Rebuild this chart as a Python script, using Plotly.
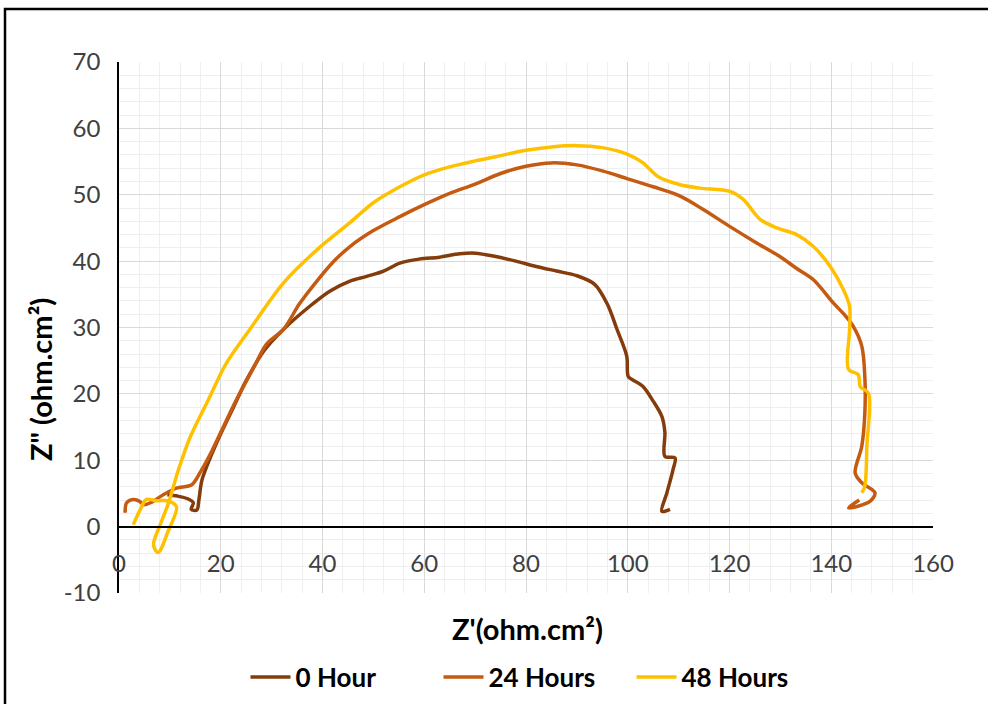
import plotly.graph_objects as go

# ---------------- data ----------------
series_names = ["0 Hour", "24 Hours", "48 Hours"]
series_colors = ["#843C0C", "#C55A11", "#FFC000"]

x_0h = [9.5, 11.5, 13.5, 14.6, 14.2, 15.3, 15.7, 16.3, 18.0, 20.0, 22.5, 25.0, 28.5,
        32.3, 37.5, 41.5, 45.4, 48.7, 52.0, 55.2, 59.0, 63.0, 67.0, 70.0, 74.0, 78.0,
        82.0, 86.0, 90.0, 93.5, 96.0, 97.9, 99.8, 100.1, 101.0, 103.0, 105.0, 106.7,
        107.3, 107.3, 109.3, 108.9, 107.7, 106.7, 108.3]
y_0h = [4.8, 4.6, 4.2, 3.6, 2.6, 2.5, 4.0, 7.0, 10.5, 14.0, 18.0, 22.0, 26.5,
        29.7, 33.2, 35.5, 37.0, 37.7, 38.5, 39.7, 40.3, 40.6, 41.1, 41.2, 40.7, 40.0,
        39.2, 38.5, 37.8, 36.5, 33.5, 29.7, 25.7, 22.6, 22.1, 21.1, 18.9, 16.6,
        14.2, 10.6, 10.35, 8.6, 5.1, 2.3, 2.6]

x_24h = [1.2, 1.5, 2.8, 4.1, 4.8, 6.2, 8.7, 11.3, 14.3, 15.9, 18.0, 20.0, 23.0, 26.5,
         29.0, 32.3, 35.5, 38.9, 42.0, 45.4, 50.0, 55.2, 60.0, 65.0, 70.0, 75.0, 80.0,
         85.0, 90.0, 95.0, 100.0, 105.0, 110.3, 115.0, 120.1, 125.0, 129.9, 133.0,
         136.5, 140.4, 142.5, 144.3, 146.0, 146.6, 146.6, 146.0, 144.7, 146.0, 148.6,
         147.6, 143.4, 145.5]
y_24h = [2.1, 3.6, 4.1, 3.8, 3.3, 3.6, 4.8, 5.8, 6.3, 8.1, 11.0, 14.2, 19.0, 24.0,
         27.5, 29.7, 33.6, 37.0, 39.8, 42.2, 44.6, 46.7, 48.5, 50.2, 51.6, 53.2, 54.3,
         54.8, 54.5, 53.6, 52.4, 51.2, 49.8, 47.7, 45.2, 42.9, 40.7, 39.0,
         37.2, 33.7, 32.0, 30.2, 27.2, 22.6, 17.1, 12.1, 8.1, 6.6, 5.1,
         3.8, 2.8, 4.0]

x_48h = [2.8, 4.2, 5.4, 7.4, 9.5, 11.3, 9.6, 8.1, 7.6, 7.0, 6.8, 8.2, 9.7, 11.7, 14.0,
         17.5, 21.0, 25.7, 32.3, 38.9, 45.4, 50.0, 55.2, 60.0, 65.0, 70.0, 75.0, 80.0,
         85.0, 90.0, 95.0, 100.0, 103.0, 106.0, 110.3, 114.2, 120.1, 122.7, 126.0,
         129.3, 133.2, 136.5, 139.8, 142.4, 143.6, 143.6, 143.4, 145.3, 145.7, 147.3,
         147.0, 146.6, 146.0]
y_48h = [0.3, 2.6, 4.1, 3.9, 3.9, 3.0, -0.8, -3.6, -3.9, -3.3, -2.5, 0.5, 3.5, 8.6, 13.5,
         19.0, 24.5, 29.7, 36.7, 41.7, 45.8, 48.8, 51.2, 53.0, 54.2, 55.1, 55.9, 56.7,
         57.2, 57.4, 57.1, 56.1, 54.8, 52.7, 51.5, 51.0, 50.5, 49.3, 46.3,
         45.0, 44.0, 42.2, 39.2, 35.7, 33.2, 29.7, 23.7, 22.9, 21.1, 20.1,
         12.1, 6.1, 5.1]

x_ticks = [0, 20, 40, 60, 80, 100, 120, 140, 160]
y_ticks = [-10, 0, 10, 20, 30, 40, 50, 60, 70]
y_tick_text = ["-10", "0", "10", "20", "30", "40", "50", "60", "70"]

x_title = "Z'(ohm.cm²)"
y_title = 'Z" (ohm.cm²)'

# ---------------- figure ----------------
W, H = 988, 704
ML, MR, MT, MB = 119, 55, 62, 111
pw, ph = W - ML - MR, H - MT - MB


def px_x(p):
    return (p - ML) / pw


def px_y(p):
    return (H - MB - p) / ph


fig = go.Figure()
for xs, ys, name, col in zip([x_0h, x_24h, x_48h], [y_0h, y_24h, y_48h],
                             series_names, series_colors):
    fig.add_trace(go.Scatter(x=xs, y=ys, mode="lines", name=name,
                             line=dict(color=col, width=3.5, shape="spline",
                                       smoothing=0.9)))

tick_font = dict(family="Lato, Open Sans, sans-serif", size=24, color="#404040")
bold_font = dict(family="Lato, sans-serif", size=29, color="#000000", weight="bold")

fig.update_layout(
    width=W, height=H,
    margin=dict(l=ML, r=MR, t=MT, b=MB, autoexpand=False),
    paper_bgcolor="white", plot_bgcolor="white",
    showlegend=True,
    legend=dict(orientation="h", x=px_x(535), xanchor="center",
                y=px_y(677), yanchor="middle",
                font=dict(family="Lato, sans-serif", size=26, color="#000000",
                          weight="bold"),
                itemwidth=40, entrywidth=138, entrywidthmode="pixels"),
    xaxis=dict(range=[0, 160], tickvals=x_ticks, anchor="free",
               position=(0 - (-10)) / 80,
               showline=True, linecolor="#000000", linewidth=1.5,
               showgrid=True, gridcolor="#d9d9d9", gridwidth=1,
               minor=dict(dtick=4, showgrid=True, gridcolor="#efefef"),
               zeroline=False, ticks="", ticklabelstandoff=16,
               tickfont=tick_font, automargin=False),
    yaxis=dict(range=[-10, 70], tickvals=y_ticks, ticktext=y_tick_text,
               showline=True, linecolor="#000000", linewidth=1.5,
               showgrid=True, gridcolor="#d9d9d9", gridwidth=1,
               minor=dict(dtick=2, showgrid=True, gridcolor="#efefef"),
               zeroline=False, ticks="", ticklabelstandoff=12,
               tickfont=tick_font, automargin=False),
    annotations=[
        dict(text=x_title, xref="paper", yref="paper", x=px_x(527), y=px_y(628),
             showarrow=False, xanchor="center", yanchor="middle", font=bold_font),
        dict(text=y_title, xref="paper", yref="paper", x=px_x(40), y=px_y(380),
             showarrow=False, xanchor="center", yanchor="middle", textangle=-90,
             font=bold_font),
    ],
    shapes=[dict(type="rect", xref="paper", yref="paper",
                 x0=px_x(5), x1=px_x(1000), y0=px_y(720), y1=px_y(9),
                 line=dict(color="#000000", width=2.5), layer="above")],
)

fig.write_html("out.html")
